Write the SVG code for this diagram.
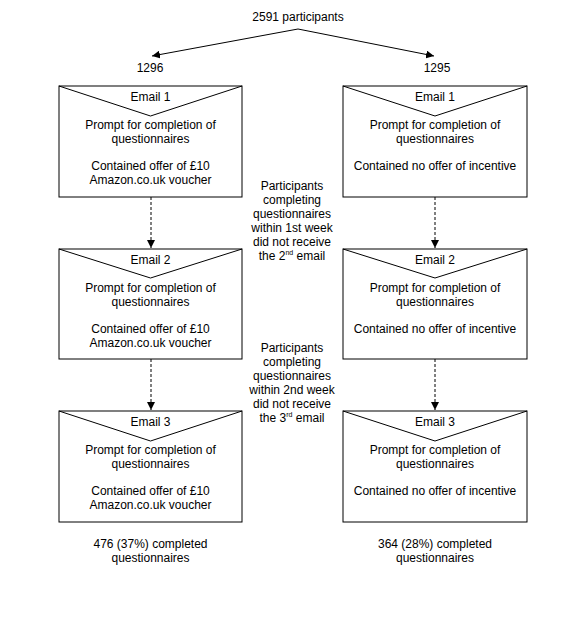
<svg xmlns="http://www.w3.org/2000/svg" width="577" height="628" viewBox="0 0 577 628">
<style>
text{font-family:"Liberation Sans",Arial,sans-serif;font-size:12px;fill:#000;text-anchor:middle}
.box{fill:#fff;stroke:#000;stroke-width:1}
.flap{fill:none;stroke:#000;stroke-width:1}
.solid{fill:none;stroke:#000;stroke-width:1}
.dash{fill:none;stroke:#000;stroke-width:1;stroke-dasharray:3 2}
.sup{font-size:7px}
</style>
<defs>
<marker id="ah" viewBox="0 0 10 10" refX="10" refY="5" markerWidth="8" markerHeight="8" markerUnits="userSpaceOnUse" orient="auto">
<path d="M0,0 L10,5 L0,10 Z" fill="#000"/>
</marker>
</defs>
<rect width="577" height="628" fill="#fff"/>
<g id="connectors">
<line class="solid" x1="298" y1="29" x2="152" y2="56" marker-end="url(#ah)"/>
<line class="solid" x1="298" y1="29" x2="434" y2="56" marker-end="url(#ah)"/>
<line class="dash" x1="151" y1="197" x2="151" y2="248" marker-end="url(#ah)"/>
<line class="dash" x1="151" y1="359" x2="151" y2="410" marker-end="url(#ah)"/>
<line class="dash" x1="435" y1="197" x2="435" y2="248" marker-end="url(#ah)"/>
<line class="dash" x1="435" y1="359" x2="435" y2="410" marker-end="url(#ah)"/>
</g>
<g id="top">
<text x="298" y="21">2591 participants</text>
<text x="150" y="72">1296</text>
<text x="437" y="72">1295</text>
</g>
<g id="left1">
<rect class="box" x="59" y="86" width="183" height="111"/>
<polyline class="flap" points="59,86 150.5,116 242,86"/>
<text x="150.5" y="101">Email 1</text>
<text x="150.5" y="129">Prompt for completion of</text>
<text x="150.5" y="143">questionnaires</text>
<text x="150.5" y="170">Contained offer of £10</text>
<text x="150.5" y="184">Amazon.co.uk voucher</text>
</g>
<g id="left2">
<rect class="box" x="59" y="249" width="183" height="110"/>
<polyline class="flap" points="59,249 150.5,278 242,249"/>
<text x="150.5" y="264">Email 2</text>
<text x="150.5" y="292">Prompt for completion of</text>
<text x="150.5" y="306">questionnaires</text>
<text x="150.5" y="333">Contained offer of £10</text>
<text x="150.5" y="347">Amazon.co.uk voucher</text>
</g>
<g id="left3">
<rect class="box" x="59" y="411" width="183" height="111"/>
<polyline class="flap" points="59,411 150.5,441 242,411"/>
<text x="150.5" y="426">Email 3</text>
<text x="150.5" y="454">Prompt for completion of</text>
<text x="150.5" y="468">questionnaires</text>
<text x="150.5" y="495">Contained offer of £10</text>
<text x="150.5" y="509">Amazon.co.uk voucher</text>
</g>
<g id="right1">
<rect class="box" x="343" y="86" width="184" height="111"/>
<polyline class="flap" points="343,86 435,116 527,86"/>
<text x="435" y="101">Email 1</text>
<text x="435" y="129">Prompt for completion of</text>
<text x="435" y="143">questionnaires</text>
<text x="435" y="170">Contained no offer of incentive</text>
</g>
<g id="right2">
<rect class="box" x="343" y="249" width="184" height="110"/>
<polyline class="flap" points="343,249 435,278 527,249"/>
<text x="435" y="264">Email 2</text>
<text x="435" y="292">Prompt for completion of</text>
<text x="435" y="306">questionnaires</text>
<text x="435" y="333">Contained no offer of incentive</text>
</g>
<g id="right3">
<rect class="box" x="343" y="411" width="184" height="111"/>
<polyline class="flap" points="343,411 435,441 527,411"/>
<text x="435" y="426">Email 3</text>
<text x="435" y="454">Prompt for completion of</text>
<text x="435" y="468">questionnaires</text>
<text x="435" y="495">Contained no offer of incentive</text>
</g>
<g id="note1">
<text x="292" y="190">Participants</text>
<text x="292" y="204">completing</text>
<text x="292" y="218">questionnaires</text>
<text x="292" y="232">within 1st week</text>
<text x="292" y="246">did not receive</text>
<text x="292" y="260">the 2<tspan class="sup" dy="-5">nd</tspan><tspan dy="5"> email</tspan></text>
</g>
<g id="note2">
<text x="292" y="352">Participants</text>
<text x="292" y="366">completing</text>
<text x="292" y="380">questionnaires</text>
<text x="292" y="394">within 2nd week</text>
<text x="292" y="408">did not receive</text>
<text x="292" y="422">the 3<tspan class="sup" dy="-5">rd</tspan><tspan dy="5"> email</tspan></text>
</g>
<g id="result-left">
<text x="150.5" y="548">476 (37%) completed</text>
<text x="150.5" y="562">questionnaires</text>
</g>
<g id="result-right">
<text x="435" y="548">364 (28%) completed</text>
<text x="435" y="562">questionnaires</text>
</g>
</svg>
